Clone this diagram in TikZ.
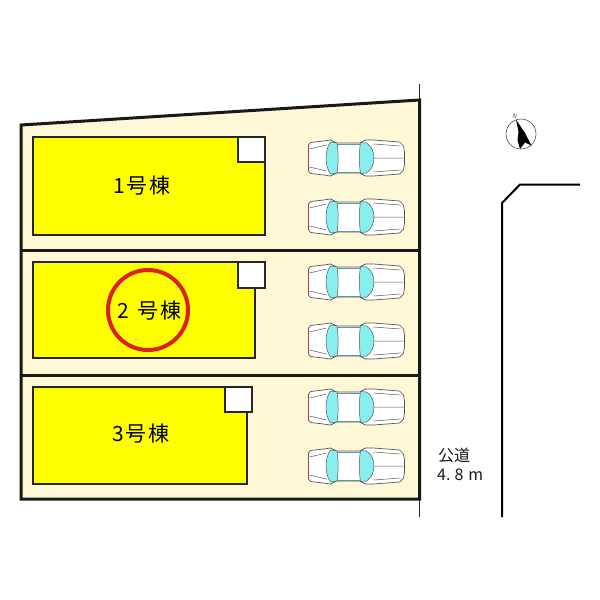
\documentclass[tikz,border=0pt]{standalone}
\usepackage{fontspec}
\setmainfont{Noto Sans CJK JP}
\definecolor{site}{HTML}{FFF8D6}
\definecolor{bright}{HTML}{FFFF00}
\definecolor{glass}{HTML}{88EEF0}
\definecolor{carline}{HTML}{555555}
\definecolor{tail}{HTML}{A04040}
\definecolor{ring}{HTML}{DC2020}
\tikzset{
  boundary/.style={draw=black!90,line width=3pt},
  thinline/.style={draw=black!85,line width=1.2pt},
  roadline/.style={draw=black,line width=2pt},
  house/.style={draw=black!85,fill=bright,line width=1.6pt,line join=miter},
  stair/.style={draw=black!85,fill=white,line width=1.6pt},
  label/.style={font=\fontsize{21}{21}\selectfont,text=black,inner sep=0pt},
  roadlabel/.style={font=\fontsize{16}{16}\selectfont,inner sep=0pt,anchor=west,text=black!90},
  car/.pic={
    \draw[carline,fill=white,line width=.7pt,line join=round]
      (-48,-13) -- (-46,-15.5) -- (-33,-17) -- (-26,-18) -- (-20,-15) -- (3,-15)
      -- (9,-18) -- (17,-18) -- (43,-16) -- (47,-12) -- (48,-6) -- (48,6) -- (47,12) -- (43,16) -- (17,18)
      -- (9,18) -- (3,15) -- (-20,15) -- (-26,18) -- (-33,17) -- (-46,15.5) -- (-48,13) -- cycle;
    \draw[glass!65!black,line width=1pt] (-20,-14) -- (4,-14) (-20,14) -- (4,14);
    \draw[carline,fill=glass,line width=.5pt]
      (-26,-16) -- (-19.5,-15) .. controls (-18,-6) and (-18,6) .. (-19.5,15)
      -- (-26,16) .. controls (-32,8) and (-32,-8) .. (-26,-16) -- cycle;
    \draw[carline,fill=glass,line width=.5pt]
      (4,-15.5) -- (10,-15) .. controls (15,-12) and (17.5,-6) .. (17.5,0)
      .. controls (17.5,6) and (15,12) .. (10,15) -- (4,15.5)
      .. controls (2.5,6) and (2.5,-6) .. (4,-15.5) -- cycle;
    \draw[carline,line width=.5pt] (17,0) -- (47,0) (17,-14) -- (44,-12) (17,14) -- (44,12)
      (-47,-9) -- (-30,-13) (-47,9) -- (-30,13);
    \draw[tail,line width=1.4pt] (-48,-13) -- (-48,13);
  }
}
\begin{document}
\begin{tikzpicture}[x=1pt,y=-1pt]
\useasboundingbox (0,0) rectangle (600,600);
\fill[white] (0,0) rectangle (600,600);
% site
\fill[site] (21,125) -- (419,100) -- (419,499) -- (21,499) -- cycle;
\draw[thinline] (419.5,84) -- (419.5,517);
\draw[boundary,line join=miter] (419.5,100) -- (21,125) -- (21,499) -- (419.5,499) -- cycle;
\draw[boundary] (21,250) -- (419.5,250) (21,375) -- (419.5,375);
% houses
\draw[house] (33,137) rectangle (265,235);
\draw[stair] (238,137) rectangle (265,162);
\draw[house] (33,262) rectangle (255,358);
\draw[stair] (238,262) rectangle (265,288);
\draw[house] (33,387) rectangle (247,484);
\draw[stair] (225,387) rectangle (252,412);
\node[label] (h1) at (142,186) {1\hspace{2pt}号\hspace{2pt}棟};
\node[label] (h2) at (149.5,311) {2\hspace{9pt}号\hspace{2pt}棟};
\node[label] (h3) at (141,434) {3\hspace{2pt}号\hspace{2pt}棟};
\draw[ring,line width=4pt] (148,310) circle (40);
% cars
\foreach \cy in {158,217,282,341,407,466} \pic at (356.5,\cy) {car};
% road
\draw[roadline,line join=miter] (502,517) -- (502,203) -- (520,184.5) -- (580,184.5);
\node[roadlabel] (road) at (438,455) {公道};
\node[roadlabel] (width) at (437,475) {4.\hspace{4pt}8\hspace{5pt}m};
% compass
\draw[black!70,line width=.6pt] (521,134) circle (15);
\fill[black] (516,119.5) -- (525,133) -- (531.5,145.5) -- (525,142.5) -- (520,149) -- (517.5,140) -- (518.5,132) -- cycle;
\node[font=\fontsize{6}{6}\selectfont,inner sep=0pt,rotate=-20,text=black!70] (north) at (515,116) {N};
\end{tikzpicture}
\end{document}
